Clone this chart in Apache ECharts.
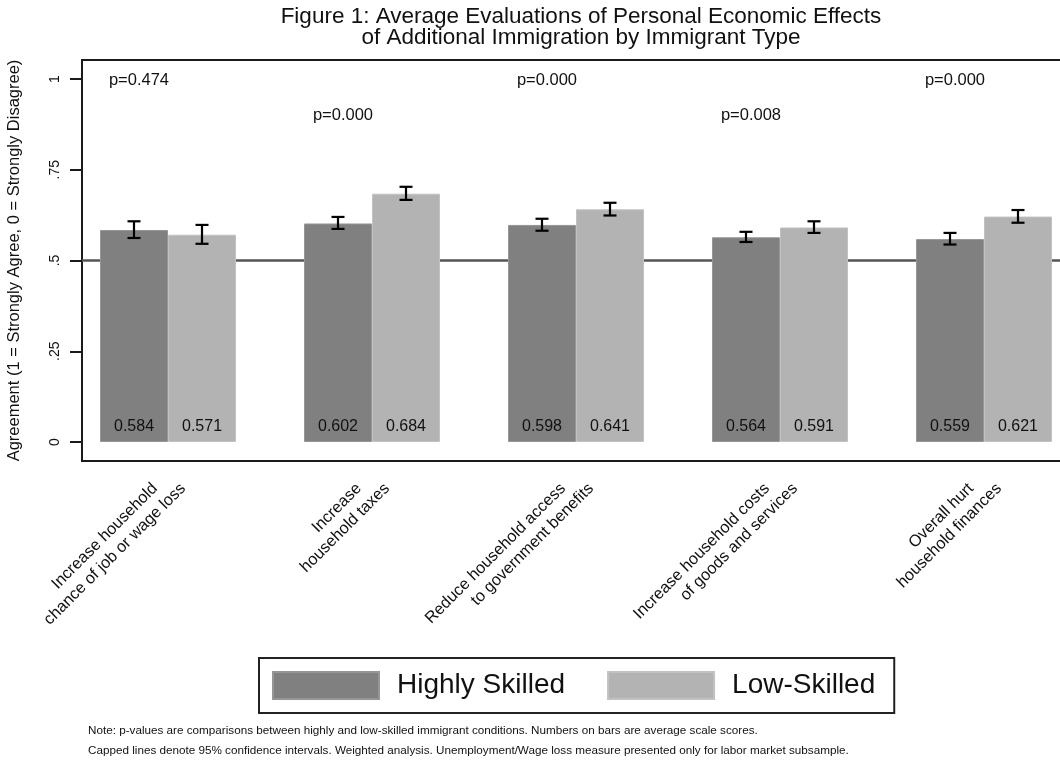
<!DOCTYPE html>
<html><head><meta charset="utf-8">
<script src="https://cdn.jsdelivr.net/npm/echarts@6/dist/echarts.min.js"></script>
<style>html,body{margin:0;padding:0;background:#fff}#c{width:1060px;height:760px}</style>
</head><body><div id="c"></div>
<script>
const categories = [
  'Increase household\nchance of job or wage loss',
  'Increase\nhousehold taxes',
  'Reduce household access\nto government benefits',
  'Increase household costs\nof goods and services',
  'Overall hurt\nhousehold finances'
];
const seriesNames = ['Highly Skilled', 'Low-Skilled'];
const highlySkilled = [0.584, 0.602, 0.598, 0.564, 0.559];
const lowSkilled    = [0.571, 0.684, 0.641, 0.591, 0.621];
const highlyCILow   = [0.562, 0.587, 0.582, 0.551, 0.544];
const highlyCIHigh  = [0.608, 0.620, 0.615, 0.579, 0.576];
const lowCILow      = [0.546, 0.667, 0.624, 0.576, 0.604];
const lowCIHigh     = [0.598, 0.703, 0.659, 0.608, 0.639];
const pValues = ['0.474', '0.000', '0.000', '0.008', '0.000'];
const yTickValues = [0, 0.25, 0.5, 0.75, 1];
const yTickLabels = ['0', '.25', '.5', '.75', '1'];
const titleText = 'Figure 1: Average Evaluations of Personal Economic Effects\nof Additional Immigration by Immigrant Type';
const yAxisTitle = 'Agreement (1 = Strongly Agree, 0 = Strongly Disagree)';
const noteText = 'Note: p-values are comparisons between highly and low-skilled immigrant conditions. Numbers on bars are average scale scores.\nCapped lines denote 95% confidence intervals. Weighted analysis. Unemployment/Wage loss measure presented only for labor market subsample.';

const FONT = '"Liberation Sans", Arial, Helvetica, sans-serif';
const Y_MIN = -0.0523, Y_MAX = 1.0523;
const X_MIN = -0.4216, X_MAX = 4.4216;
const BAR_W = 68;
const colors = ['#808080', '#b3b3b3'];

const errData = [];
highlySkilled.forEach((_, i) => errData.push([i, highlyCILow[i], highlyCIHigh[i], 0]));
lowSkilled.forEach((_, i) => errData.push([i, lowCILow[i], lowCIHigh[i], 1]));

const chart = echarts.init(document.getElementById('c'), null, {renderer: 'canvas'});
chart.setOption({
  animation: false,
  textStyle: {fontFamily: FONT, color: '#111'},
  title: [
    {text: titleText, left: 576, top: 1, textAlign: 'center',
     textStyle: {fontSize: 22.5, fontWeight: 'normal', color: '#111', lineHeight: 21, fontFamily: FONT}},
    {text: noteText, left: 83, top: 716,
     textStyle: {fontSize: 11.7, fontWeight: 'normal', color: '#111', lineHeight: 20, fontFamily: FONT}}
  ],
  legend: {
    data: seriesNames,
    left: 259, top: 658,
    orient: 'horizontal',
    icon: 'rect',
    itemWidth: 106, itemHeight: 27, itemGap: 42,
    padding: [13, 19, 13, 13],
    borderColor: '#222', borderWidth: 2,
    textStyle: {fontSize: 28, color: '#111', fontFamily: FONT, lineHeight: 27, padding: [0, 0, 0, 13]},
    selectedMode: false
  },
  grid: {left: 82, right: -10, top: 60, bottom: 299, show: true, outerBoundsMode: 'none', containLabel: false,
         borderColor: '#1a1a1a', borderWidth: 2, backgroundColor: 'transparent'},
  xAxis: {
    type: 'value', min: X_MIN, max: X_MAX,
    axisLine: {show: false, onZero: false}, axisTick: {show: false}, axisLabel: {show: false}, splitLine: {show: false}
  },
  yAxis: {
    type: 'value', min: Y_MIN, max: Y_MAX,
    name: yAxisTitle, nameLocation: 'middle', nameGap: 59, nameRotate: 90,
    nameTextStyle: {fontSize: 16.5, color: '#111', fontFamily: FONT},
    axisLine: {show: false, onZero: false},
    axisTick: {show: true, length: 12, customValues: yTickValues, lineStyle: {color: '#1a1a1a', width: 2}},
    axisLabel: {show: true, rotate: 90, margin: 20, fontSize: 14, color: '#111', fontFamily: FONT,
      customValues: yTickValues,
      formatter: v => { const k = yTickValues.findIndex(t => Math.abs(t - v) < 1e-6); return k >= 0 ? yTickLabels[k] : ''; }},
    splitLine: {show: false}
  },
  series: [
    {
      name: seriesNames[0], type: 'bar', z: 2,
      data: highlySkilled.map((v, i) => [i, v]),
      barWidth: BAR_W, barGap: '0%',
      itemStyle: {color: colors[0], borderColor: '#969696', borderWidth: 1},
      label: {show: true, position: 'insideBottom', distance: 7, fontSize: 16, color: '#111', fontFamily: FONT,
              formatter: p => p.value[1].toFixed(3)},
      markLine: {silent: true, z: 1, symbol: ['none', 'none'], label: {show: false},
                 lineStyle: {color: '#555', width: 2.5, type: 'solid'}, data: [{yAxis: 0.5}]}
    },
    {
      name: seriesNames[1], type: 'bar', z: 2,
      data: lowSkilled.map((v, i) => [i, v]),
      barWidth: BAR_W, barGap: '0%',
      itemStyle: {color: colors[1], borderColor: '#c2c2c2', borderWidth: 1},
      label: {show: true, position: 'insideBottom', distance: 7, fontSize: 16, color: '#111', fontFamily: FONT,
              formatter: p => p.value[1].toFixed(3)}
    },
    {
      name: 'ci', type: 'custom', z: 5, silent: true,
      data: errData,
      encode: {x: 0, y: [1, 2]},
      renderItem: (params, api) => {
        const i = api.value(0), k = api.value(3);
        const lo = api.coord([i, api.value(1)]);
        const hi = api.coord([i, api.value(2)]);
        const x = lo[0] + (k === 0 ? -BAR_W / 2 : BAR_W / 2);
        const cap = 6.5;
        const st = {stroke: '#000', lineWidth: 2.2};
        return {type: 'group', children: [
          {type: 'line', shape: {x1: x, y1: lo[1], x2: x, y2: hi[1]}, style: st},
          {type: 'line', shape: {x1: x - cap, y1: lo[1], x2: x + cap, y2: lo[1]}, style: st},
          {type: 'line', shape: {x1: x - cap, y1: hi[1], x2: x + cap, y2: hi[1]}, style: st}
        ]};
      }
    },
    {
      name: 'p', type: 'custom', z: 5, silent: true,
      data: pValues.map((p, i) => [i, i % 2 === 0 ? 0.997 : 0.9]),
      encode: {x: 0, y: 1},
      renderItem: (params, api) => {
        const i = api.value(0);
        const pt = api.coord([i, api.value(1)]);
        return {type: 'text', x: pt[0] + 1, y: pt[1],
          style: {text: 'p=' + pValues[i], fontSize: 16.5, fontFamily: FONT, fill: '#111', align: 'right', verticalAlign: 'middle'}};
      }
    },
    {
      name: 'xlabels', type: 'custom', z: 5, silent: true, clip: false,
      data: categories.map((c, i) => [i, 0]),
      encode: {x: 0, y: 1},
      renderItem: (params, api) => {
        const i = api.value(0);
        const p = api.coord([i, Y_MIN]);
        const lines = categories[i].split('\n');
        return {type: 'group', children: lines.map((ln, k) => ({
          type: 'text', x: p[0] - 13 + 28 * k, y: p[1] + 25, rotation: Math.PI / 4,
          style: {text: ln, fontSize: 16.3, fontFamily: FONT, fill: '#111', align: 'right', verticalAlign: 'middle'}
        }))};
      }
    }
  ]
});
</script></body></html>
